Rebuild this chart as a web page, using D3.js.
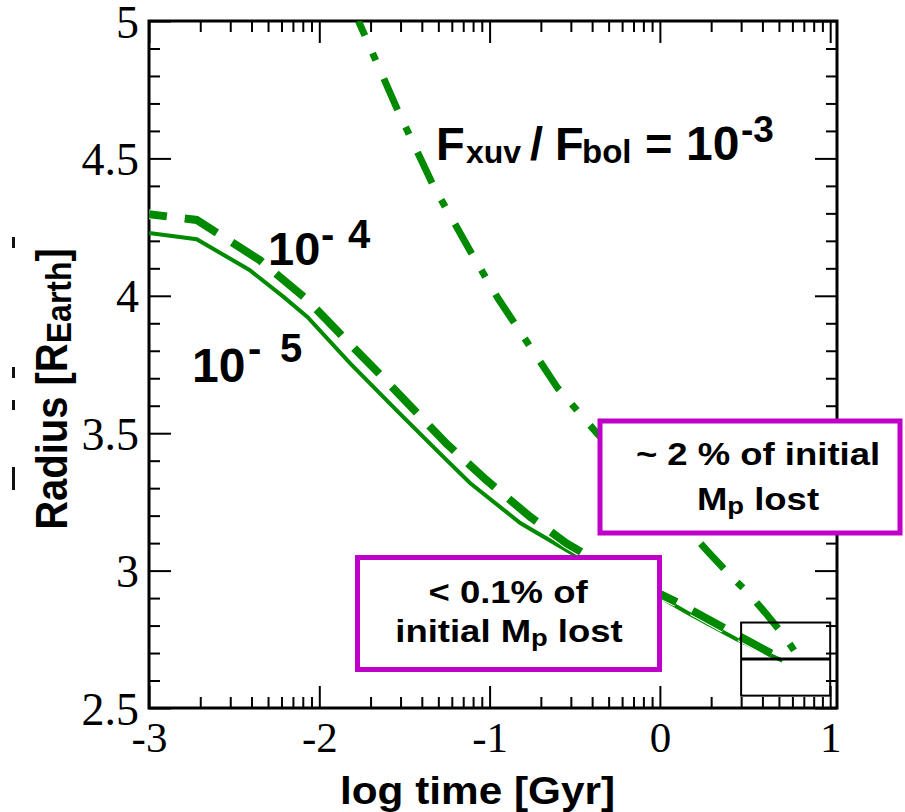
<!DOCTYPE html>
<html><head><meta charset="utf-8">
<script src="https://cdn.jsdelivr.net/npm/d3@7"></script>
<style>body{margin:0;background:#fff} svg{display:block}</style>
</head><body>
<svg id="chart" width="905" height="812"></svg>
<script>
// ---------- data ----------
const xTickValues = [-3, -2, -1, 0, 1];
const xTickLabels = ["-3", "-2", "-1", "0", "1"];
const yTickValues = [2.5, 3, 3.5, 4, 4.5, 5];
const yTickLabels = ["2.5", "3", "3.5", "4", "4.5", "5"];

// Fxuv/Fbol = 1e-5 (solid)
const logTimeLow = [-3.0, -2.72, -2.41, -2.21, -2.07, -1.82, -1.53, -1.27, -1.115, -0.82, -0.53, -0.25, 0.0, 0.18, 0.45, 0.72];
const radiusLow  = [4.229, 4.206, 4.094, 3.996, 3.923, 3.755, 3.573, 3.413, 3.319, 3.173, 3.068, 2.98, 2.904, 2.84, 2.75, 2.672];
// Fxuv/Fbol = 1e-4 (dashed)
const logTimeMid = [-3.0, -2.72, -2.35, -2.07, -1.86, -1.63, -1.25, -1.02, -0.76, -0.55, -0.25, 0.1, 0.35, 0.65, 0.75];
const radiusMid  = [4.297, 4.276, 4.13, 3.985, 3.85, 3.705, 3.46, 3.33, 3.195, 3.10, 2.99, 2.885, 2.80, 2.70, 2.672];
// Fxuv/Fbol = 1e-3 (dash-dot)
const logTimeHigh = [-1.77, -1.54, -1.33, -1.10, -0.95, -0.60, -0.37, 0.0, 0.29, 0.41, 0.52, 0.62, 0.735, 0.82];
const radiusHigh  = [5.0, 4.676, 4.40, 4.148, 3.99, 3.664, 3.50, 3.26, 3.064, 2.984, 2.918, 2.846, 2.758, 2.68];

// observed planet: age range (log Gyr) and radius (low, mid, high)
const obsLogAge = [0.477, 1.0];
const obsRadius = [2.545, 2.678, 2.811];

// ---------- setup ----------
const svg = d3.select("#chart");
const L = 149, R = 837, T = 21, B = 708;
const x = d3.scaleLinear().domain([-3, 1.04]).range([L, R]);
const y = d3.scaleLinear().domain([2.5, 5]).range([B, T]);
const green = "#008a00";
const magenta = "#bf00c8";
const sans = "'Liberation Sans', Arial, sans-serif";
const serif = "'Liberation Serif', 'Times New Roman', Times, 'DejaVu Serif', serif";

// minor ticks
const minorX = [];
for (let d = -3; d < 1; d++) for (let k = 2; k <= 9; k++) minorX.push(d + Math.log10(k));
const minorY = d3.range(26, 50).map(v => v / 10).filter(v => Math.abs(v * 2 - Math.round(v * 2)) > 1e-6);

function styleAxis(g) {
  g.select(".domain").remove();
  g.selectAll(".tick line").attr("stroke", "#000").attr("stroke-width", 2);
}

// bottom
svg.append("g").attr("transform", `translate(0,${B})`)
  .call(d3.axisBottom(x).tickValues(xTickValues).tickFormat((d, i) => xTickLabels[i]).tickSize(-22).tickPadding(13))
  .call(styleAxis)
  .call(g => g.selectAll("text").style("font-family", serif).attr("font-size", 43).attr("fill", "#000"));
svg.append("g").attr("transform", `translate(0,${B})`)
  .call(d3.axisBottom(x).tickValues(minorX).tickFormat("").tickSize(-11)).call(styleAxis);
// top
svg.append("g").attr("transform", `translate(0,${T})`)
  .call(d3.axisTop(x).tickValues(xTickValues).tickFormat("").tickSize(-22)).call(styleAxis);
svg.append("g").attr("transform", `translate(0,${T})`)
  .call(d3.axisTop(x).tickValues(minorX).tickFormat("").tickSize(-11)).call(styleAxis);
// left
svg.append("g").attr("transform", `translate(${L},0)`)
  .call(d3.axisLeft(y).tickValues(yTickValues).tickFormat((d, i) => yTickLabels[i]).tickSize(-22).tickPadding(10))
  .call(styleAxis)
  .call(g => g.selectAll("text").style("font-family", serif).attr("font-size", 46).attr("fill", "#000").attr("dy", "0.35em"));
svg.append("g").attr("transform", `translate(${L},0)`)
  .call(d3.axisLeft(y).tickValues(minorY).tickFormat("").tickSize(-11)).call(styleAxis);
// right
svg.append("g").attr("transform", `translate(${R},0)`)
  .call(d3.axisRight(y).tickValues(yTickValues).tickFormat("").tickSize(-22)).call(styleAxis);
svg.append("g").attr("transform", `translate(${R},0)`)
  .call(d3.axisRight(y).tickValues(minorY).tickFormat("").tickSize(-11)).call(styleAxis);

// frame
svg.append("rect").attr("x", L).attr("y", T).attr("width", R - L).attr("height", B - T)
  .attr("fill", "none").attr("stroke", "#000").attr("stroke-width", 3);

// clip
svg.append("clipPath").attr("id", "plotclip").append("rect")
  .attr("x", L).attr("y", T).attr("width", R - L).attr("height", B - T);
const plot = svg.append("g").attr("clip-path", "url(#plotclip)");

const line = d3.line().x(d => x(d[0])).y(d => y(d[1]));
const low = logTimeLow.map((t, i) => [t, radiusLow[i]]);
const mid = logTimeMid.map((t, i) => [t, radiusMid[i]]);
const high = logTimeHigh.map((t, i) => [t, radiusHigh[i]]);

plot.append("path").attr("d", line(low)).attr("fill", "none").attr("stroke", green).attr("stroke-width", 4);
plot.append("path").attr("d", line(mid)).attr("fill", "none").attr("stroke", "#fff").attr("stroke-width", 10)
  .attr("stroke-dasharray", "36,18").attr("stroke-dashoffset", 18);
plot.append("path").attr("d", line(mid)).attr("fill", "none").attr("stroke", green).attr("stroke-width", 8)
  .attr("stroke-dasharray", "36,18").attr("stroke-dashoffset", 18);
plot.append("path").attr("d", line(high)).attr("fill", "none").attr("stroke", green).attr("stroke-width", 7)
  .attr("stroke-dasharray", "34,19,8,20").attr("stroke-dashoffset", 18);

// observation box
svg.append("rect").attr("x", x(obsLogAge[0])).attr("y", y(obsRadius[2]))
  .attr("width", x(obsLogAge[1]) - x(obsLogAge[0])).attr("height", y(obsRadius[0]) - y(obsRadius[2]))
  .attr("fill", "none").attr("stroke", "#000").attr("stroke-width", 2);
svg.append("line").attr("x1", x(obsLogAge[0])).attr("x2", x(obsLogAge[1]))
  .attr("y1", y(obsRadius[1])).attr("y2", y(obsRadius[1])).attr("stroke", "#000").attr("stroke-width", 3);

// curve labels
const t1 = svg.append("text").attr("font-family", sans).attr("font-weight", "bold").attr("fill", "#000");
t1.append("tspan").attr("x", 436).attr("y", 160).attr("font-size", 47).text("F");
t1.append("tspan").attr("x", 466).attr("y", 163).attr("font-size", 32).text("xuv");
t1.append("tspan").attr("x", 530).attr("y", 160).attr("font-size", 47).text("/");
t1.append("tspan").attr("x", 555).attr("y", 160).attr("font-size", 47).text("F");
t1.append("tspan").attr("x", 582).attr("y", 163).attr("font-size", 33).text("bol");
t1.append("tspan").attr("x", 645).attr("y", 160).attr("font-size", 47).text("=");
t1.append("tspan").attr("x", 686).attr("y", 160).attr("font-size", 48).text("10");
t1.append("tspan").attr("x", 741).attr("y", 142).attr("font-size", 37).text("-3");

const t2 = svg.append("text").attr("font-family", sans).attr("font-weight", "bold").attr("fill", "#000");
t2.append("tspan").attr("x", 268).attr("y", 265).attr("font-size", 47).text("10");
t2.append("tspan").attr("x", 321).attr("y", 248).attr("font-size", 40).text("-");
t2.append("tspan").attr("x", 348).attr("y", 248).attr("font-size", 40).text("4");

const t3 = svg.append("text").attr("font-family", sans).attr("font-weight", "bold").attr("fill", "#000");
t3.append("tspan").attr("x", 192).attr("y", 382).attr("font-size", 48).text("10");
t3.append("tspan").attr("x", 248).attr("y", 362).attr("font-size", 40).text("-");
t3.append("tspan").attr("x", 280).attr("y", 362).attr("font-size", 40).text("5");

// annotation boxes
function box(x0, y0, w, h, lines) {
  svg.append("rect").attr("x", x0).attr("y", y0).attr("width", w).attr("height", h)
    .attr("fill", "#fff").attr("stroke", magenta).attr("stroke-width", 5);
  lines.forEach(l => {
    const t = svg.append("text").attr("transform", `translate(${l.cx},${l.by}) scale(1.14,1)`)
      .attr("text-anchor", "middle").attr("font-family", sans).attr("font-weight", "bold")
      .attr("font-size", 32).attr("fill", "#000");
    l.parts.forEach(p => {
      const s = t.append("tspan").text(p.t);
      if (p.sub) s.attr("font-size", 24).attr("dy", 4);
      if (p.back) s.attr("dy", -4);
    });
  });
}
box(600, 421, 300, 112, [
  { cx: 758, by: 465, parts: [{ t: "~ 2 % of initial" }] },
  { cx: 758, by: 510, parts: [{ t: "M" }, { t: "p", sub: true }, { t: " lost", back: true }] }
]);
box(357.5, 557.5, 302, 112, [
  { cx: 508, by: 603, parts: [{ t: "< 0.1% of" }] },
  { cx: 509, by: 642, parts: [{ t: "initial M" }, { t: "p", sub: true }, { t: " lost", back: true }] }
]);

// axis titles
svg.append("text").attr("transform", "translate(477.5,804) scale(1.085,1)")
  .attr("text-anchor", "middle").attr("font-family", sans).attr("font-weight", "bold")
  .attr("font-size", 39).attr("fill", "#000").text("log time [Gyr]");
const yl = svg.append("text").attr("transform", "translate(67,389) scale(1.12,1) rotate(-90)")
  .attr("text-anchor", "middle").attr("font-family", sans).attr("font-weight", "bold")
  .attr("font-size", 40).attr("fill", "#000");
yl.append("tspan").text("Radius [R");
yl.append("tspan").attr("font-size", 32).attr("dy", 4).text("Earth");
yl.append("tspan").attr("dy", -4).text("]");

// stray marks at left edge of the original figure
[[237, 248], [367, 378], [400, 410], [467, 490]].forEach(([a, b]) => {
  svg.append("rect").attr("x", 12).attr("y", a).attr("width", 3).attr("height", b - a).attr("fill", "#111");
});
</script>
</body></html>
